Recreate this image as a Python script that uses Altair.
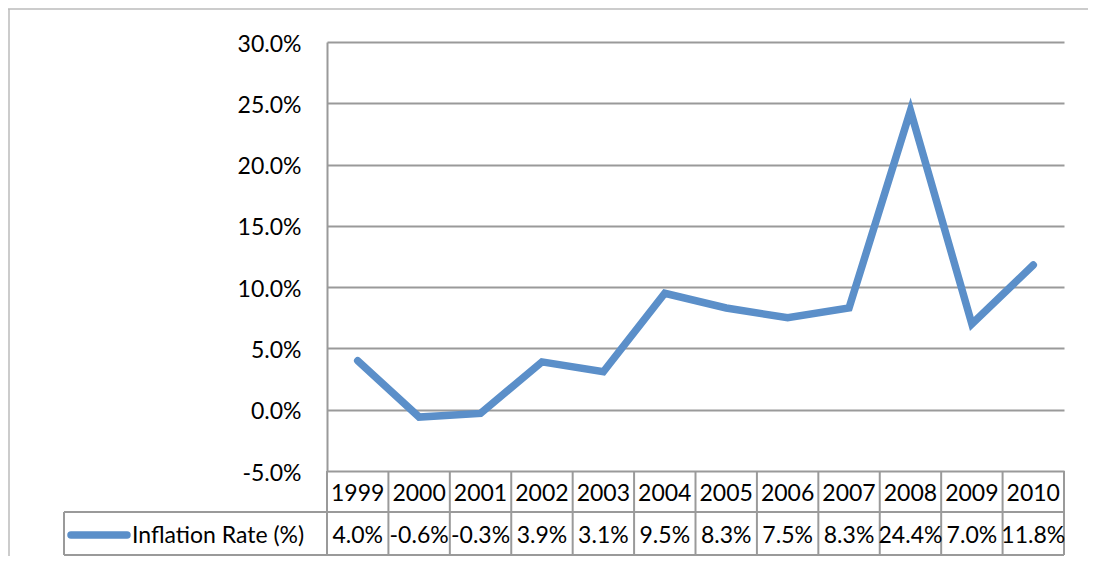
import altair as alt
import pandas as pd

years = [1999, 2000, 2001, 2002, 2003, 2004, 2005, 2006, 2007, 2008, 2009, 2010]
rates = [4.0, -0.6, -0.3, 3.9, 3.1, 9.5, 8.3, 7.5, 8.3, 24.4, 7.0, 11.8]
yticks = [-5, 0, 5, 10, 15, 20, 25, 30]
series_name = "Inflation Rate (%)"

df = pd.DataFrame({
    "idx": list(range(len(years))),
    "year": [str(y) for y in years],
    "rate": rates,
    "label": [f"{r:.1f}%" for r in rates],
})
bounds = pd.DataFrame({"b": [i - 0.5 for i in range(len(years) + 1)]})
one = pd.DataFrame({"a": [0]})

W, H = 737, 429
FONT = "Lato"
FS = 23
GRAY = "#9a9a9a"
BLUE = "#5B8FC9"

xscale = alt.Scale(domain=[-0.5, len(years) - 0.5], nice=False, zero=False)
yscale = alt.Scale(domain=[-5, 30], nice=False, zero=False)

line = alt.Chart(df).mark_line(
    color=BLUE, strokeWidth=7.5, strokeCap="round", strokeJoin="miter"
).encode(
    x=alt.X("idx:Q", scale=xscale, axis=None),
    y=alt.Y("rate:Q", scale=yscale, axis=alt.Axis(
        values=yticks,
        labelExpr="(datum.value < 0 ? '-' : '') + format(abs(datum.value), '.1f') + '%'",
        grid=True, gridColor=GRAY, gridWidth=2,
        domain=True, domainColor=GRAY, domainWidth=2,
        ticks=False, labelPadding=26, labelFontSize=FS, labelFont=FONT,
        labelColor="#000", title=None, labelOffset=2,
    )),
)

vlines = alt.Chart(bounds).mark_rule(color=GRAY, strokeWidth=2).encode(
    x=alt.X("b:Q", scale=xscale, axis=None),
    y=alt.value(H),
    y2=alt.value(513),
)

hline_mid = alt.Chart(one).mark_rule(color=GRAY, strokeWidth=2).encode(
    x=alt.value(-263), x2=alt.value(W), y=alt.value(470)
)
hline_bot = alt.Chart(one).mark_rule(color=GRAY, strokeWidth=2).encode(
    x=alt.value(-263), x2=alt.value(W), y=alt.value(513)
)
legend_left = alt.Chart(one).mark_rule(color=GRAY, strokeWidth=2).encode(
    x=alt.value(-263), y=alt.value(470), y2=alt.value(513)
)

frame_top = alt.Chart(one).mark_rule(color="#bbbbbb", strokeWidth=1.5).encode(
    x=alt.value(-319), x2=alt.value(W + 40), y=alt.value(-33)
)
frame_left = alt.Chart(one).mark_rule(color="#bbbbbb", strokeWidth=1.5).encode(
    x=alt.value(-318), y=alt.value(-33), y2=alt.value(H + 100)
)

year_text = alt.Chart(df).mark_text(
    font=FONT, fontSize=FS, baseline="middle", align="center", color="#000"
).encode(
    x=alt.X("idx:Q", scale=xscale, axis=None),
    y=alt.value(452),
    text="year:N",
)
val_text = alt.Chart(df).mark_text(
    font=FONT, fontSize=FS, baseline="middle", align="center", color="#000"
).encode(
    x=alt.X("idx:Q", scale=xscale, axis=None),
    y=alt.value(494),
    text="label:N",
)

legend_swatch = alt.Chart(one).mark_rule(
    color=BLUE, strokeWidth=7.5, strokeCap="round"
).encode(x=alt.value(-256), x2=alt.value(-200), y=alt.value(493))
legend_text = alt.Chart(pd.DataFrame({"t": [series_name]})).mark_text(
    font=FONT, fontSize=FS, baseline="middle", align="left", color="#000"
).encode(x=alt.value(-195), y=alt.value(494), text="t:N")

chart = alt.layer(
    frame_top, frame_left, vlines, hline_mid, hline_bot, legend_left,
    line, year_text, val_text, legend_swatch, legend_text,
).properties(
    width=W, height=H,
    padding={"left": 319, "top": 34, "right": 24, "bottom": 85},
    autosize="none",
    background="white",
).configure_view(stroke=None)

chart.save("out.html", embed_options={"renderer": "svg", "actions": False})
